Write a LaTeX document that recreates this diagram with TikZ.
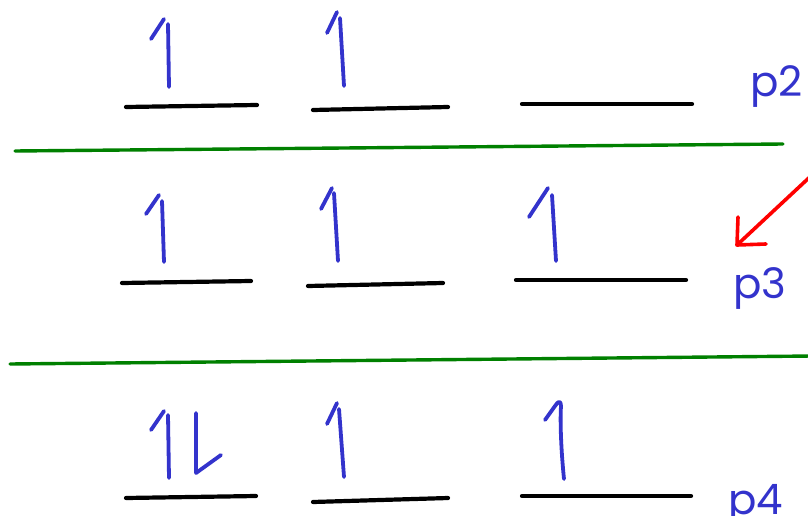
\documentclass[tikz,border=0pt]{standalone}
\usepackage{fontspec}
\newfontfamily\labfont{Poppins}
\definecolor{spinblue}{RGB}{51,51,204}
\definecolor{sepgreen}{RGB}{0,128,0}
\definecolor{arrred}{RGB}{255,0,0}
\tikzset{
  spin/.style={draw=spinblue, line width=3.8pt, line cap=round, line join=round},
  level/.style={draw=black, line width=4.2pt, line cap=round},
  sepline/.style={draw=sepgreen, line width=3.4pt, line cap=round},
  redstroke/.style={draw=arrred, line width=3.6pt, line cap=round, line join=round},
  lab/.style={anchor=base west, inner sep=0pt, text=spinblue, font=\labfont\fontsize{42}{42}\selectfont}
}
\begin{document}
\begin{tikzpicture}[x=1pt,y=-1pt]
\useasboundingbox (0,0) rectangle (808,516);
% separators
\draw[sepline] (15,151) -- (783,144);
\draw[sepline] (10,364) -- (812,356);
% row p2
\draw[level] (126,107) -- (257,105);
\draw[level] (313,110) -- (448,107);
\draw[level] (522,104) -- (692,104);
\draw[spin] (169,87) -- (168,24);
\draw[spin] (164,19) -- (151,39);
\draw[spin] (344,86) -- (340,18);
\draw[spin] (337,12) -- (327,33);
\node[lab] (p2) at (750,97) {p2};
% row p3
\draw[level] (122,283) -- (251,281);
\draw[level] (308,286) -- (443,283);
\draw[level] (516,280) -- (686,280);
\draw[spin] (164,262) -- (162,201);
\draw[spin] (159,195) -- (146,214);
\draw[spin] (338,261) -- (334,193);
\draw[spin] (332,188) -- (321,209);
\draw[spin] (556,261) -- (552,195);
\draw[spin] (548,188) -- (529,217);
\node[lab] (p3) at (733,298) {p3};
\coordinate (rs) at (812,175);
\coordinate (rt) at (737,245);
\draw[redstroke] (rs) -- (rt);
\draw[redstroke] (738,217) -- (rt) -- (766,244);
% row p4
\draw[level] (126,498) -- (256,496);
\draw[level] (313,502) -- (448,498);
\draw[level] (522,496) -- (691,496);
\draw[spin] (169,478) -- (168,415);
\draw[spin] (164,411) -- (151,430);
\draw[spin] (196,413) -- (196,473) -- (221,455);
\draw[spin] (344,477) -- (339,409);
\draw[spin] (337,403) -- (327,424);
\draw[spin] (564,479) .. controls (561,450) and (560,420) .. (561,406) .. controls (561,400) and (558,401) .. (555,406) -- (545,420);
\node[lab] (p4) at (728,514) {p4};
\end{tikzpicture}
\end{document}
